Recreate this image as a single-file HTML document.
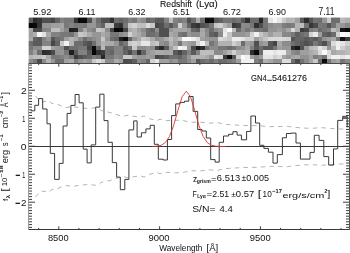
<!DOCTYPE html>
<html><head><meta charset="utf-8"><title>GN4_5461276</title>
<style>html,body{margin:0;padding:0;background:#fff;width:350px;height:253px;overflow:hidden}svg{display:block;will-change:transform}text{font-family:"Liberation Sans",sans-serif;white-space:pre}</style>
</head><body><svg width="350" height="253" viewBox="0 0 350 253" font-family='"Liberation Sans", sans-serif'><g shape-rendering="crispEdges"><rect x="29" y="18" width="4" height="5" fill="rgb(95,95,95)"/><rect x="33" y="18" width="4" height="5" fill="rgb(45,45,45)"/><rect x="37" y="18" width="5" height="5" fill="rgb(55,55,55)"/><rect x="42" y="18" width="4" height="5" fill="rgb(80,80,80)"/><rect x="46" y="18" width="5" height="5" fill="rgb(80,80,80)"/><rect x="51" y="18" width="4" height="5" fill="rgb(70,70,70)"/><rect x="55" y="18" width="5" height="5" fill="rgb(100,100,100)"/><rect x="60" y="18" width="4" height="5" fill="rgb(130,130,130)"/><rect x="64" y="18" width="5" height="5" fill="rgb(120,120,120)"/><rect x="69" y="18" width="5" height="5" fill="rgb(120,120,120)"/><rect x="74" y="18" width="4" height="5" fill="rgb(50,50,50)"/><rect x="78" y="18" width="5" height="5" fill="rgb(10,10,10)"/><rect x="83" y="18" width="4" height="5" fill="rgb(10,10,10)"/><rect x="87" y="18" width="5" height="5" fill="rgb(80,80,80)"/><rect x="92" y="18" width="4" height="5" fill="rgb(150,150,150)"/><rect x="96" y="18" width="5" height="5" fill="rgb(110,110,110)"/><rect x="101" y="18" width="4" height="5" fill="rgb(80,80,80)"/><rect x="105" y="18" width="5" height="5" fill="rgb(80,80,80)"/><rect x="110" y="18" width="4" height="5" fill="rgb(50,50,50)"/><rect x="114" y="18" width="5" height="5" fill="rgb(110,110,110)"/><rect x="119" y="18" width="4" height="5" fill="rgb(100,100,100)"/><rect x="123" y="18" width="5" height="5" fill="rgb(110,110,110)"/><rect x="128" y="18" width="4" height="5" fill="rgb(130,130,130)"/><rect x="132" y="18" width="5" height="5" fill="rgb(120,120,120)"/><rect x="137" y="18" width="4" height="5" fill="rgb(150,150,150)"/><rect x="141" y="18" width="5" height="5" fill="rgb(140,140,140)"/><rect x="146" y="18" width="4" height="5" fill="rgb(100,100,100)"/><rect x="150" y="18" width="5" height="5" fill="rgb(110,110,110)"/><rect x="155" y="18" width="4" height="5" fill="rgb(90,90,90)"/><rect x="159" y="18" width="5" height="5" fill="rgb(90,90,90)"/><rect x="164" y="18" width="5" height="5" fill="rgb(130,130,130)"/><rect x="169" y="18" width="4" height="5" fill="rgb(190,190,190)"/><rect x="173" y="18" width="5" height="5" fill="rgb(130,130,130)"/><rect x="178" y="18" width="4" height="5" fill="rgb(120,120,120)"/><rect x="182" y="18" width="5" height="5" fill="rgb(130,130,130)"/><rect x="187" y="18" width="4" height="5" fill="rgb(80,80,80)"/><rect x="191" y="18" width="5" height="5" fill="rgb(110,110,110)"/><rect x="196" y="18" width="4" height="5" fill="rgb(170,170,170)"/><rect x="200" y="18" width="5" height="5" fill="rgb(110,110,110)"/><rect x="205" y="18" width="4" height="5" fill="rgb(10,10,10)"/><rect x="209" y="18" width="5" height="5" fill="rgb(15,15,15)"/><rect x="214" y="18" width="4" height="5" fill="rgb(88,88,88)"/><rect x="218" y="18" width="5" height="5" fill="rgb(98,98,98)"/><rect x="223" y="18" width="4" height="5" fill="rgb(118,118,118)"/><rect x="227" y="18" width="5" height="5" fill="rgb(118,118,118)"/><rect x="232" y="18" width="4" height="5" fill="rgb(108,108,108)"/><rect x="236" y="18" width="5" height="5" fill="rgb(118,118,118)"/><rect x="241" y="18" width="4" height="5" fill="rgb(88,88,88)"/><rect x="245" y="18" width="5" height="5" fill="rgb(48,48,48)"/><rect x="250" y="18" width="4" height="5" fill="rgb(108,108,108)"/><rect x="254" y="18" width="5" height="5" fill="rgb(108,108,108)"/><rect x="259" y="18" width="4" height="5" fill="rgb(38,38,38)"/><rect x="263" y="18" width="5" height="5" fill="rgb(118,118,118)"/><rect x="268" y="18" width="5" height="5" fill="rgb(228,228,228)"/><rect x="273" y="18" width="4" height="5" fill="rgb(245,245,245)"/><rect x="277" y="18" width="5" height="5" fill="rgb(228,228,228)"/><rect x="282" y="18" width="4" height="5" fill="rgb(200,200,200)"/><rect x="286" y="18" width="5" height="5" fill="rgb(180,180,180)"/><rect x="291" y="18" width="4" height="5" fill="rgb(180,180,180)"/><rect x="295" y="18" width="5" height="5" fill="rgb(160,160,160)"/><rect x="300" y="18" width="4" height="5" fill="rgb(90,90,90)"/><rect x="304" y="18" width="5" height="5" fill="rgb(45,45,45)"/><rect x="309" y="18" width="4" height="5" fill="rgb(85,85,85)"/><rect x="313" y="18" width="5" height="5" fill="rgb(115,115,115)"/><rect x="318" y="18" width="4" height="5" fill="rgb(110,110,110)"/><rect x="322" y="18" width="5" height="5" fill="rgb(150,150,150)"/><rect x="327" y="18" width="4" height="5" fill="rgb(200,200,200)"/><rect x="331" y="18" width="5" height="5" fill="rgb(110,110,110)"/><rect x="336" y="18" width="4" height="5" fill="rgb(110,110,110)"/><rect x="340" y="18" width="5" height="5" fill="rgb(185,185,185)"/><rect x="345" y="18" width="5" height="5" fill="rgb(175,175,175)"/><rect x="29" y="23" width="4" height="5" fill="rgb(5,5,5)"/><rect x="33" y="23" width="4" height="5" fill="rgb(10,10,10)"/><rect x="37" y="23" width="5" height="5" fill="rgb(55,55,55)"/><rect x="42" y="23" width="4" height="5" fill="rgb(150,150,150)"/><rect x="46" y="23" width="5" height="5" fill="rgb(150,150,150)"/><rect x="51" y="23" width="4" height="5" fill="rgb(160,160,160)"/><rect x="55" y="23" width="5" height="5" fill="rgb(160,160,160)"/><rect x="60" y="23" width="4" height="5" fill="rgb(165,165,165)"/><rect x="64" y="23" width="5" height="5" fill="rgb(120,120,120)"/><rect x="69" y="23" width="5" height="5" fill="rgb(130,130,130)"/><rect x="74" y="23" width="4" height="5" fill="rgb(120,120,120)"/><rect x="78" y="23" width="5" height="5" fill="rgb(125,125,125)"/><rect x="83" y="23" width="4" height="5" fill="rgb(120,120,120)"/><rect x="87" y="23" width="5" height="5" fill="rgb(150,150,150)"/><rect x="92" y="23" width="4" height="5" fill="rgb(150,150,150)"/><rect x="96" y="23" width="5" height="5" fill="rgb(120,120,120)"/><rect x="101" y="23" width="4" height="5" fill="rgb(100,100,100)"/><rect x="105" y="23" width="5" height="5" fill="rgb(190,190,190)"/><rect x="110" y="23" width="4" height="5" fill="rgb(190,190,190)"/><rect x="114" y="23" width="5" height="5" fill="rgb(60,60,60)"/><rect x="119" y="23" width="4" height="5" fill="rgb(50,50,50)"/><rect x="123" y="23" width="5" height="5" fill="rgb(120,120,120)"/><rect x="128" y="23" width="4" height="5" fill="rgb(200,200,200)"/><rect x="132" y="23" width="5" height="5" fill="rgb(210,210,210)"/><rect x="137" y="23" width="4" height="5" fill="rgb(190,190,190)"/><rect x="141" y="23" width="5" height="5" fill="rgb(190,190,190)"/><rect x="146" y="23" width="4" height="5" fill="rgb(220,220,220)"/><rect x="150" y="23" width="5" height="5" fill="rgb(200,200,200)"/><rect x="155" y="23" width="4" height="5" fill="rgb(70,70,70)"/><rect x="159" y="23" width="5" height="5" fill="rgb(80,80,80)"/><rect x="164" y="23" width="5" height="5" fill="rgb(110,110,110)"/><rect x="169" y="23" width="4" height="5" fill="rgb(90,90,90)"/><rect x="173" y="23" width="5" height="5" fill="rgb(120,120,120)"/><rect x="178" y="23" width="4" height="5" fill="rgb(210,210,210)"/><rect x="182" y="23" width="5" height="5" fill="rgb(150,150,150)"/><rect x="187" y="23" width="4" height="5" fill="rgb(100,100,100)"/><rect x="191" y="23" width="5" height="5" fill="rgb(60,60,60)"/><rect x="196" y="23" width="4" height="5" fill="rgb(50,50,50)"/><rect x="200" y="23" width="5" height="5" fill="rgb(80,80,80)"/><rect x="205" y="23" width="4" height="5" fill="rgb(90,90,90)"/><rect x="209" y="23" width="5" height="5" fill="rgb(118,118,118)"/><rect x="214" y="23" width="4" height="5" fill="rgb(198,198,198)"/><rect x="218" y="23" width="5" height="5" fill="rgb(208,208,208)"/><rect x="223" y="23" width="4" height="5" fill="rgb(178,178,178)"/><rect x="227" y="23" width="5" height="5" fill="rgb(158,158,158)"/><rect x="232" y="23" width="4" height="5" fill="rgb(58,58,58)"/><rect x="236" y="23" width="5" height="5" fill="rgb(68,68,68)"/><rect x="241" y="23" width="4" height="5" fill="rgb(138,138,138)"/><rect x="245" y="23" width="5" height="5" fill="rgb(138,138,138)"/><rect x="250" y="23" width="4" height="5" fill="rgb(118,118,118)"/><rect x="254" y="23" width="5" height="5" fill="rgb(48,48,48)"/><rect x="259" y="23" width="4" height="5" fill="rgb(78,78,78)"/><rect x="263" y="23" width="5" height="5" fill="rgb(118,118,118)"/><rect x="268" y="23" width="5" height="5" fill="rgb(138,138,138)"/><rect x="273" y="23" width="4" height="5" fill="rgb(148,148,148)"/><rect x="277" y="23" width="5" height="5" fill="rgb(148,148,148)"/><rect x="282" y="23" width="4" height="5" fill="rgb(125,125,125)"/><rect x="286" y="23" width="5" height="5" fill="rgb(120,120,120)"/><rect x="291" y="23" width="4" height="5" fill="rgb(125,125,125)"/><rect x="295" y="23" width="5" height="5" fill="rgb(180,180,180)"/><rect x="300" y="23" width="4" height="5" fill="rgb(190,190,190)"/><rect x="304" y="23" width="5" height="5" fill="rgb(115,115,115)"/><rect x="309" y="23" width="4" height="5" fill="rgb(55,55,55)"/><rect x="313" y="23" width="5" height="5" fill="rgb(75,75,75)"/><rect x="318" y="23" width="4" height="5" fill="rgb(120,120,120)"/><rect x="322" y="23" width="5" height="5" fill="rgb(115,115,115)"/><rect x="327" y="23" width="4" height="5" fill="rgb(85,85,85)"/><rect x="331" y="23" width="5" height="5" fill="rgb(115,115,115)"/><rect x="336" y="23" width="4" height="5" fill="rgb(160,160,160)"/><rect x="340" y="23" width="5" height="5" fill="rgb(150,150,150)"/><rect x="345" y="23" width="5" height="5" fill="rgb(135,135,135)"/><rect x="29" y="28" width="4" height="4" fill="rgb(165,165,165)"/><rect x="33" y="28" width="4" height="4" fill="rgb(75,75,75)"/><rect x="37" y="28" width="5" height="4" fill="rgb(75,75,75)"/><rect x="42" y="28" width="4" height="4" fill="rgb(130,130,130)"/><rect x="46" y="28" width="5" height="4" fill="rgb(135,135,135)"/><rect x="51" y="28" width="4" height="4" fill="rgb(190,190,190)"/><rect x="55" y="28" width="5" height="4" fill="rgb(190,190,190)"/><rect x="60" y="28" width="4" height="4" fill="rgb(160,160,160)"/><rect x="64" y="28" width="5" height="4" fill="rgb(135,135,135)"/><rect x="69" y="28" width="5" height="4" fill="rgb(30,30,30)"/><rect x="74" y="28" width="4" height="4" fill="rgb(35,35,35)"/><rect x="78" y="28" width="5" height="4" fill="rgb(130,130,130)"/><rect x="83" y="28" width="4" height="4" fill="rgb(170,170,170)"/><rect x="87" y="28" width="5" height="4" fill="rgb(140,140,140)"/><rect x="92" y="28" width="4" height="4" fill="rgb(130,130,130)"/><rect x="96" y="28" width="5" height="4" fill="rgb(200,200,200)"/><rect x="101" y="28" width="4" height="4" fill="rgb(190,190,190)"/><rect x="105" y="28" width="5" height="4" fill="rgb(140,140,140)"/><rect x="110" y="28" width="4" height="4" fill="rgb(70,70,70)"/><rect x="114" y="28" width="5" height="4" fill="rgb(5,5,5)"/><rect x="119" y="28" width="4" height="4" fill="rgb(10,10,10)"/><rect x="123" y="28" width="5" height="4" fill="rgb(70,70,70)"/><rect x="128" y="28" width="4" height="4" fill="rgb(170,170,170)"/><rect x="132" y="28" width="5" height="4" fill="rgb(180,180,180)"/><rect x="137" y="28" width="4" height="4" fill="rgb(160,160,160)"/><rect x="141" y="28" width="5" height="4" fill="rgb(140,140,140)"/><rect x="146" y="28" width="4" height="4" fill="rgb(110,110,110)"/><rect x="150" y="28" width="5" height="4" fill="rgb(100,100,100)"/><rect x="155" y="28" width="4" height="4" fill="rgb(140,140,140)"/><rect x="159" y="28" width="5" height="4" fill="rgb(80,80,80)"/><rect x="164" y="28" width="5" height="4" fill="rgb(80,80,80)"/><rect x="169" y="28" width="4" height="4" fill="rgb(150,150,150)"/><rect x="173" y="28" width="5" height="4" fill="rgb(165,165,165)"/><rect x="178" y="28" width="4" height="4" fill="rgb(165,165,165)"/><rect x="182" y="28" width="5" height="4" fill="rgb(165,165,165)"/><rect x="187" y="28" width="4" height="4" fill="rgb(155,155,155)"/><rect x="191" y="28" width="5" height="4" fill="rgb(105,105,105)"/><rect x="196" y="28" width="4" height="4" fill="rgb(95,95,95)"/><rect x="200" y="28" width="5" height="4" fill="rgb(165,165,165)"/><rect x="205" y="28" width="4" height="4" fill="rgb(135,135,135)"/><rect x="209" y="28" width="5" height="4" fill="rgb(108,108,108)"/><rect x="214" y="28" width="4" height="4" fill="rgb(138,138,138)"/><rect x="218" y="28" width="5" height="4" fill="rgb(148,148,148)"/><rect x="223" y="28" width="4" height="4" fill="rgb(228,228,228)"/><rect x="227" y="28" width="5" height="4" fill="rgb(250,250,250)"/><rect x="232" y="28" width="4" height="4" fill="rgb(188,188,188)"/><rect x="236" y="28" width="5" height="4" fill="rgb(108,108,108)"/><rect x="241" y="28" width="4" height="4" fill="rgb(138,138,138)"/><rect x="245" y="28" width="5" height="4" fill="rgb(118,118,118)"/><rect x="250" y="28" width="4" height="4" fill="rgb(138,138,138)"/><rect x="254" y="28" width="5" height="4" fill="rgb(118,118,118)"/><rect x="259" y="28" width="4" height="4" fill="rgb(118,118,118)"/><rect x="263" y="28" width="5" height="4" fill="rgb(108,108,108)"/><rect x="268" y="28" width="5" height="4" fill="rgb(148,148,148)"/><rect x="273" y="28" width="4" height="4" fill="rgb(148,148,148)"/><rect x="277" y="28" width="5" height="4" fill="rgb(158,158,158)"/><rect x="282" y="28" width="4" height="4" fill="rgb(145,145,145)"/><rect x="286" y="28" width="5" height="4" fill="rgb(165,165,165)"/><rect x="291" y="28" width="4" height="4" fill="rgb(215,215,215)"/><rect x="295" y="28" width="5" height="4" fill="rgb(175,175,175)"/><rect x="300" y="28" width="4" height="4" fill="rgb(60,60,60)"/><rect x="304" y="28" width="5" height="4" fill="rgb(70,70,70)"/><rect x="309" y="28" width="4" height="4" fill="rgb(125,125,125)"/><rect x="313" y="28" width="5" height="4" fill="rgb(135,135,135)"/><rect x="318" y="28" width="4" height="4" fill="rgb(108,108,108)"/><rect x="322" y="28" width="5" height="4" fill="rgb(118,118,118)"/><rect x="327" y="28" width="4" height="4" fill="rgb(128,128,128)"/><rect x="331" y="28" width="5" height="4" fill="rgb(188,188,188)"/><rect x="336" y="28" width="4" height="4" fill="rgb(168,168,168)"/><rect x="340" y="28" width="5" height="4" fill="rgb(20,20,20)"/><rect x="345" y="28" width="5" height="4" fill="rgb(10,10,10)"/><rect x="29" y="32" width="4" height="5" fill="rgb(160,160,160)"/><rect x="33" y="32" width="4" height="5" fill="rgb(175,175,175)"/><rect x="37" y="32" width="5" height="5" fill="rgb(245,245,245)"/><rect x="42" y="32" width="4" height="5" fill="rgb(225,225,225)"/><rect x="46" y="32" width="5" height="5" fill="rgb(170,170,170)"/><rect x="51" y="32" width="4" height="5" fill="rgb(130,130,130)"/><rect x="55" y="32" width="5" height="5" fill="rgb(130,130,130)"/><rect x="60" y="32" width="4" height="5" fill="rgb(120,120,120)"/><rect x="64" y="32" width="5" height="5" fill="rgb(120,120,120)"/><rect x="69" y="32" width="5" height="5" fill="rgb(115,115,115)"/><rect x="74" y="32" width="4" height="5" fill="rgb(150,150,150)"/><rect x="78" y="32" width="5" height="5" fill="rgb(200,200,200)"/><rect x="83" y="32" width="4" height="5" fill="rgb(190,190,190)"/><rect x="87" y="32" width="5" height="5" fill="rgb(170,170,170)"/><rect x="92" y="32" width="4" height="5" fill="rgb(150,150,150)"/><rect x="96" y="32" width="5" height="5" fill="rgb(150,150,150)"/><rect x="101" y="32" width="4" height="5" fill="rgb(170,170,170)"/><rect x="105" y="32" width="5" height="5" fill="rgb(160,160,160)"/><rect x="110" y="32" width="4" height="5" fill="rgb(120,120,120)"/><rect x="114" y="32" width="5" height="5" fill="rgb(120,120,120)"/><rect x="119" y="32" width="4" height="5" fill="rgb(140,140,140)"/><rect x="123" y="32" width="5" height="5" fill="rgb(150,150,150)"/><rect x="128" y="32" width="4" height="5" fill="rgb(210,210,210)"/><rect x="132" y="32" width="5" height="5" fill="rgb(180,180,180)"/><rect x="137" y="32" width="4" height="5" fill="rgb(170,170,170)"/><rect x="141" y="32" width="5" height="5" fill="rgb(150,150,150)"/><rect x="146" y="32" width="4" height="5" fill="rgb(110,110,110)"/><rect x="150" y="32" width="5" height="5" fill="rgb(110,110,110)"/><rect x="155" y="32" width="4" height="5" fill="rgb(120,120,120)"/><rect x="159" y="32" width="5" height="5" fill="rgb(80,80,80)"/><rect x="164" y="32" width="5" height="5" fill="rgb(80,80,80)"/><rect x="169" y="32" width="4" height="5" fill="rgb(170,170,170)"/><rect x="173" y="32" width="5" height="5" fill="rgb(160,160,160)"/><rect x="178" y="32" width="4" height="5" fill="rgb(120,120,120)"/><rect x="182" y="32" width="5" height="5" fill="rgb(110,110,110)"/><rect x="187" y="32" width="4" height="5" fill="rgb(150,150,150)"/><rect x="191" y="32" width="5" height="5" fill="rgb(140,140,140)"/><rect x="196" y="32" width="4" height="5" fill="rgb(140,140,140)"/><rect x="200" y="32" width="5" height="5" fill="rgb(170,170,170)"/><rect x="205" y="32" width="4" height="5" fill="rgb(140,140,140)"/><rect x="209" y="32" width="5" height="5" fill="rgb(98,98,98)"/><rect x="214" y="32" width="4" height="5" fill="rgb(88,88,88)"/><rect x="218" y="32" width="5" height="5" fill="rgb(138,138,138)"/><rect x="223" y="32" width="4" height="5" fill="rgb(238,238,238)"/><rect x="227" y="32" width="5" height="5" fill="rgb(198,198,198)"/><rect x="232" y="32" width="4" height="5" fill="rgb(148,148,148)"/><rect x="236" y="32" width="5" height="5" fill="rgb(148,148,148)"/><rect x="241" y="32" width="4" height="5" fill="rgb(148,148,148)"/><rect x="245" y="32" width="5" height="5" fill="rgb(158,158,158)"/><rect x="250" y="32" width="4" height="5" fill="rgb(208,208,208)"/><rect x="254" y="32" width="5" height="5" fill="rgb(240,240,240)"/><rect x="259" y="32" width="4" height="5" fill="rgb(198,198,198)"/><rect x="263" y="32" width="5" height="5" fill="rgb(178,178,178)"/><rect x="268" y="32" width="5" height="5" fill="rgb(158,158,158)"/><rect x="273" y="32" width="4" height="5" fill="rgb(178,178,178)"/><rect x="277" y="32" width="5" height="5" fill="rgb(178,178,178)"/><rect x="282" y="32" width="4" height="5" fill="rgb(135,135,135)"/><rect x="286" y="32" width="5" height="5" fill="rgb(135,135,135)"/><rect x="291" y="32" width="4" height="5" fill="rgb(120,120,120)"/><rect x="295" y="32" width="5" height="5" fill="rgb(95,95,95)"/><rect x="300" y="32" width="4" height="5" fill="rgb(110,110,110)"/><rect x="304" y="32" width="5" height="5" fill="rgb(120,120,120)"/><rect x="309" y="32" width="4" height="5" fill="rgb(210,210,210)"/><rect x="313" y="32" width="5" height="5" fill="rgb(235,235,235)"/><rect x="318" y="32" width="4" height="5" fill="rgb(158,158,158)"/><rect x="322" y="32" width="5" height="5" fill="rgb(98,98,98)"/><rect x="327" y="32" width="4" height="5" fill="rgb(88,88,88)"/><rect x="331" y="32" width="5" height="5" fill="rgb(108,108,108)"/><rect x="336" y="32" width="4" height="5" fill="rgb(208,208,208)"/><rect x="340" y="32" width="5" height="5" fill="rgb(250,250,250)"/><rect x="345" y="32" width="5" height="5" fill="rgb(245,245,245)"/><rect x="29" y="37" width="4" height="4" fill="rgb(170,170,170)"/><rect x="33" y="37" width="4" height="4" fill="rgb(100,100,100)"/><rect x="37" y="37" width="5" height="4" fill="rgb(90,90,90)"/><rect x="42" y="37" width="4" height="4" fill="rgb(130,130,130)"/><rect x="46" y="37" width="5" height="4" fill="rgb(150,150,150)"/><rect x="51" y="37" width="4" height="4" fill="rgb(85,85,85)"/><rect x="55" y="37" width="5" height="4" fill="rgb(110,110,110)"/><rect x="60" y="37" width="4" height="4" fill="rgb(120,120,120)"/><rect x="64" y="37" width="5" height="4" fill="rgb(160,160,160)"/><rect x="69" y="37" width="5" height="4" fill="rgb(180,180,180)"/><rect x="74" y="37" width="4" height="4" fill="rgb(170,170,170)"/><rect x="78" y="37" width="5" height="4" fill="rgb(140,140,140)"/><rect x="83" y="37" width="4" height="4" fill="rgb(110,110,110)"/><rect x="87" y="37" width="5" height="4" fill="rgb(130,130,130)"/><rect x="92" y="37" width="4" height="4" fill="rgb(140,140,140)"/><rect x="96" y="37" width="5" height="4" fill="rgb(150,150,150)"/><rect x="101" y="37" width="4" height="4" fill="rgb(200,200,200)"/><rect x="105" y="37" width="5" height="4" fill="rgb(150,150,150)"/><rect x="110" y="37" width="4" height="4" fill="rgb(110,110,110)"/><rect x="114" y="37" width="5" height="4" fill="rgb(100,100,100)"/><rect x="119" y="37" width="4" height="4" fill="rgb(30,30,30)"/><rect x="123" y="37" width="5" height="4" fill="rgb(10,10,10)"/><rect x="128" y="37" width="4" height="4" fill="rgb(100,100,100)"/><rect x="132" y="37" width="5" height="4" fill="rgb(150,150,150)"/><rect x="137" y="37" width="4" height="4" fill="rgb(170,170,170)"/><rect x="141" y="37" width="5" height="4" fill="rgb(200,200,200)"/><rect x="146" y="37" width="4" height="4" fill="rgb(190,190,190)"/><rect x="150" y="37" width="5" height="4" fill="rgb(170,170,170)"/><rect x="155" y="37" width="4" height="4" fill="rgb(140,140,140)"/><rect x="159" y="37" width="5" height="4" fill="rgb(150,150,150)"/><rect x="164" y="37" width="5" height="4" fill="rgb(170,170,170)"/><rect x="169" y="37" width="4" height="4" fill="rgb(190,190,190)"/><rect x="173" y="37" width="5" height="4" fill="rgb(170,170,170)"/><rect x="178" y="37" width="4" height="4" fill="rgb(190,190,190)"/><rect x="182" y="37" width="5" height="4" fill="rgb(250,250,250)"/><rect x="187" y="37" width="4" height="4" fill="rgb(250,250,250)"/><rect x="191" y="37" width="5" height="4" fill="rgb(240,240,240)"/><rect x="196" y="37" width="4" height="4" fill="rgb(220,220,220)"/><rect x="200" y="37" width="5" height="4" fill="rgb(160,160,160)"/><rect x="205" y="37" width="4" height="4" fill="rgb(150,150,150)"/><rect x="209" y="37" width="5" height="4" fill="rgb(148,148,148)"/><rect x="214" y="37" width="4" height="4" fill="rgb(148,148,148)"/><rect x="218" y="37" width="5" height="4" fill="rgb(218,218,218)"/><rect x="223" y="37" width="4" height="4" fill="rgb(208,208,208)"/><rect x="227" y="37" width="5" height="4" fill="rgb(198,198,198)"/><rect x="232" y="37" width="4" height="4" fill="rgb(238,238,238)"/><rect x="236" y="37" width="5" height="4" fill="rgb(238,238,238)"/><rect x="241" y="37" width="4" height="4" fill="rgb(228,228,228)"/><rect x="245" y="37" width="5" height="4" fill="rgb(208,208,208)"/><rect x="250" y="37" width="4" height="4" fill="rgb(208,208,208)"/><rect x="254" y="37" width="5" height="4" fill="rgb(158,158,158)"/><rect x="259" y="37" width="4" height="4" fill="rgb(178,178,178)"/><rect x="263" y="37" width="5" height="4" fill="rgb(198,198,198)"/><rect x="268" y="37" width="5" height="4" fill="rgb(218,218,218)"/><rect x="273" y="37" width="4" height="4" fill="rgb(218,218,218)"/><rect x="277" y="37" width="5" height="4" fill="rgb(218,218,218)"/><rect x="282" y="37" width="4" height="4" fill="rgb(215,215,215)"/><rect x="286" y="37" width="5" height="4" fill="rgb(210,210,210)"/><rect x="291" y="37" width="4" height="4" fill="rgb(85,85,85)"/><rect x="295" y="37" width="5" height="4" fill="rgb(100,100,100)"/><rect x="300" y="37" width="4" height="4" fill="rgb(100,100,100)"/><rect x="304" y="37" width="5" height="4" fill="rgb(90,90,90)"/><rect x="309" y="37" width="4" height="4" fill="rgb(100,100,100)"/><rect x="313" y="37" width="5" height="4" fill="rgb(90,90,90)"/><rect x="318" y="37" width="4" height="4" fill="rgb(108,108,108)"/><rect x="322" y="37" width="5" height="4" fill="rgb(148,148,148)"/><rect x="327" y="37" width="4" height="4" fill="rgb(158,158,158)"/><rect x="331" y="37" width="5" height="4" fill="rgb(168,168,168)"/><rect x="336" y="37" width="4" height="4" fill="rgb(118,118,118)"/><rect x="340" y="37" width="5" height="4" fill="rgb(20,20,20)"/><rect x="345" y="37" width="5" height="4" fill="rgb(58,58,58)"/><rect x="29" y="41" width="4" height="5" fill="rgb(110,110,110)"/><rect x="33" y="41" width="4" height="5" fill="rgb(90,90,90)"/><rect x="37" y="41" width="5" height="5" fill="rgb(90,90,90)"/><rect x="42" y="41" width="4" height="5" fill="rgb(130,130,130)"/><rect x="46" y="41" width="5" height="5" fill="rgb(130,130,130)"/><rect x="51" y="41" width="4" height="5" fill="rgb(70,70,70)"/><rect x="55" y="41" width="5" height="5" fill="rgb(100,100,100)"/><rect x="60" y="41" width="4" height="5" fill="rgb(200,200,200)"/><rect x="64" y="41" width="5" height="5" fill="rgb(240,240,240)"/><rect x="69" y="41" width="5" height="5" fill="rgb(180,180,180)"/><rect x="74" y="41" width="4" height="5" fill="rgb(110,110,110)"/><rect x="78" y="41" width="5" height="5" fill="rgb(110,110,110)"/><rect x="83" y="41" width="4" height="5" fill="rgb(90,90,90)"/><rect x="87" y="41" width="5" height="5" fill="rgb(80,80,80)"/><rect x="92" y="41" width="4" height="5" fill="rgb(110,110,110)"/><rect x="96" y="41" width="5" height="5" fill="rgb(150,150,150)"/><rect x="101" y="41" width="4" height="5" fill="rgb(180,180,180)"/><rect x="105" y="41" width="5" height="5" fill="rgb(170,170,170)"/><rect x="110" y="41" width="4" height="5" fill="rgb(170,170,170)"/><rect x="114" y="41" width="5" height="5" fill="rgb(150,150,150)"/><rect x="119" y="41" width="4" height="5" fill="rgb(100,100,100)"/><rect x="123" y="41" width="5" height="5" fill="rgb(120,120,120)"/><rect x="128" y="41" width="4" height="5" fill="rgb(200,200,200)"/><rect x="132" y="41" width="5" height="5" fill="rgb(210,210,210)"/><rect x="137" y="41" width="4" height="5" fill="rgb(200,200,200)"/><rect x="141" y="41" width="5" height="5" fill="rgb(230,230,230)"/><rect x="146" y="41" width="4" height="5" fill="rgb(230,230,230)"/><rect x="150" y="41" width="5" height="5" fill="rgb(190,190,190)"/><rect x="155" y="41" width="4" height="5" fill="rgb(200,200,200)"/><rect x="159" y="41" width="5" height="5" fill="rgb(145,145,145)"/><rect x="164" y="41" width="5" height="5" fill="rgb(135,135,135)"/><rect x="169" y="41" width="4" height="5" fill="rgb(180,180,180)"/><rect x="173" y="41" width="5" height="5" fill="rgb(160,160,160)"/><rect x="178" y="41" width="4" height="5" fill="rgb(120,120,120)"/><rect x="182" y="41" width="5" height="5" fill="rgb(170,170,170)"/><rect x="187" y="41" width="4" height="5" fill="rgb(160,160,160)"/><rect x="191" y="41" width="5" height="5" fill="rgb(150,150,150)"/><rect x="196" y="41" width="4" height="5" fill="rgb(210,210,210)"/><rect x="200" y="41" width="5" height="5" fill="rgb(240,240,240)"/><rect x="205" y="41" width="4" height="5" fill="rgb(190,190,190)"/><rect x="209" y="41" width="5" height="5" fill="rgb(118,118,118)"/><rect x="214" y="41" width="4" height="5" fill="rgb(138,138,138)"/><rect x="218" y="41" width="5" height="5" fill="rgb(178,178,178)"/><rect x="223" y="41" width="4" height="5" fill="rgb(178,178,178)"/><rect x="227" y="41" width="5" height="5" fill="rgb(178,178,178)"/><rect x="232" y="41" width="4" height="5" fill="rgb(208,208,208)"/><rect x="236" y="41" width="5" height="5" fill="rgb(188,188,188)"/><rect x="241" y="41" width="4" height="5" fill="rgb(108,108,108)"/><rect x="245" y="41" width="5" height="5" fill="rgb(158,158,158)"/><rect x="250" y="41" width="4" height="5" fill="rgb(148,148,148)"/><rect x="254" y="41" width="5" height="5" fill="rgb(78,78,78)"/><rect x="259" y="41" width="4" height="5" fill="rgb(148,148,148)"/><rect x="263" y="41" width="5" height="5" fill="rgb(158,158,158)"/><rect x="268" y="41" width="5" height="5" fill="rgb(88,88,88)"/><rect x="273" y="41" width="4" height="5" fill="rgb(68,68,68)"/><rect x="277" y="41" width="5" height="5" fill="rgb(168,168,168)"/><rect x="282" y="41" width="4" height="5" fill="rgb(140,140,140)"/><rect x="286" y="41" width="5" height="5" fill="rgb(140,140,140)"/><rect x="291" y="41" width="4" height="5" fill="rgb(110,110,110)"/><rect x="295" y="41" width="5" height="5" fill="rgb(100,100,100)"/><rect x="300" y="41" width="4" height="5" fill="rgb(90,90,90)"/><rect x="304" y="41" width="5" height="5" fill="rgb(80,80,80)"/><rect x="309" y="41" width="4" height="5" fill="rgb(90,90,90)"/><rect x="313" y="41" width="5" height="5" fill="rgb(120,120,120)"/><rect x="318" y="41" width="4" height="5" fill="rgb(98,98,98)"/><rect x="322" y="41" width="5" height="5" fill="rgb(78,78,78)"/><rect x="327" y="41" width="4" height="5" fill="rgb(128,128,128)"/><rect x="331" y="41" width="5" height="5" fill="rgb(218,218,218)"/><rect x="336" y="41" width="4" height="5" fill="rgb(238,238,238)"/><rect x="340" y="41" width="5" height="5" fill="rgb(228,228,228)"/><rect x="345" y="41" width="5" height="5" fill="rgb(208,208,208)"/><rect x="29" y="46" width="4" height="4" fill="rgb(120,120,120)"/><rect x="33" y="46" width="4" height="4" fill="rgb(140,140,140)"/><rect x="37" y="46" width="5" height="4" fill="rgb(140,140,140)"/><rect x="42" y="46" width="4" height="4" fill="rgb(210,210,210)"/><rect x="46" y="46" width="5" height="4" fill="rgb(210,210,210)"/><rect x="51" y="46" width="4" height="4" fill="rgb(160,160,160)"/><rect x="55" y="46" width="5" height="4" fill="rgb(150,150,150)"/><rect x="60" y="46" width="4" height="4" fill="rgb(140,140,140)"/><rect x="64" y="46" width="5" height="4" fill="rgb(80,80,80)"/><rect x="69" y="46" width="5" height="4" fill="rgb(110,110,110)"/><rect x="74" y="46" width="4" height="4" fill="rgb(110,110,110)"/><rect x="78" y="46" width="5" height="4" fill="rgb(120,120,120)"/><rect x="83" y="46" width="4" height="4" fill="rgb(120,120,120)"/><rect x="87" y="46" width="5" height="4" fill="rgb(70,70,70)"/><rect x="92" y="46" width="4" height="4" fill="rgb(10,10,10)"/><rect x="96" y="46" width="5" height="4" fill="rgb(100,100,100)"/><rect x="101" y="46" width="4" height="4" fill="rgb(185,185,185)"/><rect x="105" y="46" width="5" height="4" fill="rgb(110,110,110)"/><rect x="110" y="46" width="4" height="4" fill="rgb(110,110,110)"/><rect x="114" y="46" width="5" height="4" fill="rgb(130,130,130)"/><rect x="119" y="46" width="4" height="4" fill="rgb(130,130,130)"/><rect x="123" y="46" width="5" height="4" fill="rgb(95,95,95)"/><rect x="128" y="46" width="4" height="4" fill="rgb(110,110,110)"/><rect x="132" y="46" width="5" height="4" fill="rgb(200,200,200)"/><rect x="137" y="46" width="4" height="4" fill="rgb(140,140,140)"/><rect x="141" y="46" width="5" height="4" fill="rgb(140,140,140)"/><rect x="146" y="46" width="4" height="4" fill="rgb(150,150,150)"/><rect x="150" y="46" width="5" height="4" fill="rgb(140,140,140)"/><rect x="155" y="46" width="4" height="4" fill="rgb(70,70,70)"/><rect x="159" y="46" width="5" height="4" fill="rgb(40,40,40)"/><rect x="164" y="46" width="5" height="4" fill="rgb(90,90,90)"/><rect x="169" y="46" width="4" height="4" fill="rgb(160,160,160)"/><rect x="173" y="46" width="5" height="4" fill="rgb(195,195,195)"/><rect x="178" y="46" width="4" height="4" fill="rgb(245,245,245)"/><rect x="182" y="46" width="5" height="4" fill="rgb(235,235,235)"/><rect x="187" y="46" width="4" height="4" fill="rgb(155,155,155)"/><rect x="191" y="46" width="5" height="4" fill="rgb(75,75,75)"/><rect x="196" y="46" width="4" height="4" fill="rgb(25,25,25)"/><rect x="200" y="46" width="5" height="4" fill="rgb(45,45,45)"/><rect x="205" y="46" width="4" height="4" fill="rgb(115,115,115)"/><rect x="209" y="46" width="5" height="4" fill="rgb(138,138,138)"/><rect x="214" y="46" width="4" height="4" fill="rgb(138,138,138)"/><rect x="218" y="46" width="5" height="4" fill="rgb(118,118,118)"/><rect x="223" y="46" width="4" height="4" fill="rgb(118,118,118)"/><rect x="227" y="46" width="5" height="4" fill="rgb(108,108,108)"/><rect x="232" y="46" width="4" height="4" fill="rgb(118,118,118)"/><rect x="236" y="46" width="5" height="4" fill="rgb(138,138,138)"/><rect x="241" y="46" width="4" height="4" fill="rgb(148,148,148)"/><rect x="245" y="46" width="5" height="4" fill="rgb(168,168,168)"/><rect x="250" y="46" width="4" height="4" fill="rgb(128,128,128)"/><rect x="254" y="46" width="5" height="4" fill="rgb(88,88,88)"/><rect x="259" y="46" width="4" height="4" fill="rgb(108,108,108)"/><rect x="263" y="46" width="5" height="4" fill="rgb(88,88,88)"/><rect x="268" y="46" width="5" height="4" fill="rgb(88,88,88)"/><rect x="273" y="46" width="4" height="4" fill="rgb(118,118,118)"/><rect x="277" y="46" width="5" height="4" fill="rgb(158,158,158)"/><rect x="282" y="46" width="4" height="4" fill="rgb(150,150,150)"/><rect x="286" y="46" width="5" height="4" fill="rgb(150,150,150)"/><rect x="291" y="46" width="4" height="4" fill="rgb(45,45,45)"/><rect x="295" y="46" width="5" height="4" fill="rgb(25,25,25)"/><rect x="300" y="46" width="4" height="4" fill="rgb(80,80,80)"/><rect x="304" y="46" width="5" height="4" fill="rgb(150,150,150)"/><rect x="309" y="46" width="4" height="4" fill="rgb(185,185,185)"/><rect x="313" y="46" width="5" height="4" fill="rgb(195,195,195)"/><rect x="318" y="46" width="4" height="4" fill="rgb(228,228,228)"/><rect x="322" y="46" width="5" height="4" fill="rgb(208,208,208)"/><rect x="327" y="46" width="4" height="4" fill="rgb(148,148,148)"/><rect x="331" y="46" width="5" height="4" fill="rgb(188,188,188)"/><rect x="336" y="46" width="4" height="4" fill="rgb(240,240,240)"/><rect x="340" y="46" width="5" height="4" fill="rgb(208,208,208)"/><rect x="345" y="46" width="5" height="4" fill="rgb(188,188,188)"/><rect x="29" y="50" width="4" height="5" fill="rgb(130,130,130)"/><rect x="33" y="50" width="4" height="5" fill="rgb(160,160,160)"/><rect x="37" y="50" width="5" height="5" fill="rgb(110,110,110)"/><rect x="42" y="50" width="4" height="5" fill="rgb(45,45,45)"/><rect x="46" y="50" width="5" height="5" fill="rgb(50,50,50)"/><rect x="51" y="50" width="4" height="5" fill="rgb(75,75,75)"/><rect x="55" y="50" width="5" height="5" fill="rgb(145,145,145)"/><rect x="60" y="50" width="4" height="5" fill="rgb(150,150,150)"/><rect x="64" y="50" width="5" height="5" fill="rgb(120,120,120)"/><rect x="69" y="50" width="5" height="5" fill="rgb(30,30,30)"/><rect x="74" y="50" width="4" height="5" fill="rgb(90,90,90)"/><rect x="78" y="50" width="5" height="5" fill="rgb(130,130,130)"/><rect x="83" y="50" width="4" height="5" fill="rgb(130,130,130)"/><rect x="87" y="50" width="5" height="5" fill="rgb(90,90,90)"/><rect x="92" y="50" width="4" height="5" fill="rgb(5,5,5)"/><rect x="96" y="50" width="5" height="5" fill="rgb(50,50,50)"/><rect x="101" y="50" width="4" height="5" fill="rgb(60,60,60)"/><rect x="105" y="50" width="5" height="5" fill="rgb(110,110,110)"/><rect x="110" y="50" width="4" height="5" fill="rgb(100,100,100)"/><rect x="114" y="50" width="5" height="5" fill="rgb(130,130,130)"/><rect x="119" y="50" width="4" height="5" fill="rgb(130,130,130)"/><rect x="123" y="50" width="5" height="5" fill="rgb(100,100,100)"/><rect x="128" y="50" width="4" height="5" fill="rgb(75,75,75)"/><rect x="132" y="50" width="5" height="5" fill="rgb(115,115,115)"/><rect x="137" y="50" width="4" height="5" fill="rgb(50,50,50)"/><rect x="141" y="50" width="5" height="5" fill="rgb(100,100,100)"/><rect x="146" y="50" width="4" height="5" fill="rgb(150,150,150)"/><rect x="150" y="50" width="5" height="5" fill="rgb(160,160,160)"/><rect x="155" y="50" width="4" height="5" fill="rgb(170,170,170)"/><rect x="159" y="50" width="5" height="5" fill="rgb(170,170,170)"/><rect x="164" y="50" width="5" height="5" fill="rgb(165,165,165)"/><rect x="169" y="50" width="4" height="5" fill="rgb(170,170,170)"/><rect x="173" y="50" width="5" height="5" fill="rgb(90,90,90)"/><rect x="178" y="50" width="4" height="5" fill="rgb(70,70,70)"/><rect x="182" y="50" width="5" height="5" fill="rgb(100,100,100)"/><rect x="187" y="50" width="4" height="5" fill="rgb(130,130,130)"/><rect x="191" y="50" width="5" height="5" fill="rgb(90,90,90)"/><rect x="196" y="50" width="4" height="5" fill="rgb(130,130,130)"/><rect x="200" y="50" width="5" height="5" fill="rgb(190,190,190)"/><rect x="205" y="50" width="4" height="5" fill="rgb(190,190,190)"/><rect x="209" y="50" width="5" height="5" fill="rgb(188,188,188)"/><rect x="214" y="50" width="4" height="5" fill="rgb(138,138,138)"/><rect x="218" y="50" width="5" height="5" fill="rgb(138,138,138)"/><rect x="223" y="50" width="4" height="5" fill="rgb(158,158,158)"/><rect x="227" y="50" width="5" height="5" fill="rgb(178,178,178)"/><rect x="232" y="50" width="4" height="5" fill="rgb(208,208,208)"/><rect x="236" y="50" width="5" height="5" fill="rgb(178,178,178)"/><rect x="241" y="50" width="4" height="5" fill="rgb(168,168,168)"/><rect x="245" y="50" width="5" height="5" fill="rgb(178,178,178)"/><rect x="250" y="50" width="4" height="5" fill="rgb(48,48,48)"/><rect x="254" y="50" width="5" height="5" fill="rgb(10,10,10)"/><rect x="259" y="50" width="4" height="5" fill="rgb(108,108,108)"/><rect x="263" y="50" width="5" height="5" fill="rgb(238,238,238)"/><rect x="268" y="50" width="5" height="5" fill="rgb(240,240,240)"/><rect x="273" y="50" width="4" height="5" fill="rgb(228,228,228)"/><rect x="277" y="50" width="5" height="5" fill="rgb(238,238,238)"/><rect x="282" y="50" width="4" height="5" fill="rgb(235,235,235)"/><rect x="286" y="50" width="5" height="5" fill="rgb(170,170,170)"/><rect x="291" y="50" width="4" height="5" fill="rgb(140,140,140)"/><rect x="295" y="50" width="5" height="5" fill="rgb(130,130,130)"/><rect x="300" y="50" width="4" height="5" fill="rgb(160,160,160)"/><rect x="304" y="50" width="5" height="5" fill="rgb(160,160,160)"/><rect x="309" y="50" width="4" height="5" fill="rgb(170,170,170)"/><rect x="313" y="50" width="5" height="5" fill="rgb(180,180,180)"/><rect x="318" y="50" width="4" height="5" fill="rgb(218,218,218)"/><rect x="322" y="50" width="5" height="5" fill="rgb(250,250,250)"/><rect x="327" y="50" width="4" height="5" fill="rgb(218,218,218)"/><rect x="331" y="50" width="5" height="5" fill="rgb(168,168,168)"/><rect x="336" y="50" width="4" height="5" fill="rgb(178,178,178)"/><rect x="340" y="50" width="5" height="5" fill="rgb(178,178,178)"/><rect x="345" y="50" width="5" height="5" fill="rgb(188,188,188)"/><rect x="29" y="55" width="4" height="4" fill="rgb(180,180,180)"/><rect x="33" y="55" width="4" height="4" fill="rgb(190,190,190)"/><rect x="37" y="55" width="5" height="4" fill="rgb(190,190,190)"/><rect x="42" y="55" width="4" height="4" fill="rgb(200,200,200)"/><rect x="46" y="55" width="5" height="4" fill="rgb(170,170,170)"/><rect x="51" y="55" width="4" height="4" fill="rgb(120,120,120)"/><rect x="55" y="55" width="5" height="4" fill="rgb(120,120,120)"/><rect x="60" y="55" width="4" height="4" fill="rgb(130,130,130)"/><rect x="64" y="55" width="5" height="4" fill="rgb(140,140,140)"/><rect x="69" y="55" width="5" height="4" fill="rgb(120,120,120)"/><rect x="74" y="55" width="4" height="4" fill="rgb(60,60,60)"/><rect x="78" y="55" width="5" height="4" fill="rgb(80,80,80)"/><rect x="83" y="55" width="4" height="4" fill="rgb(90,90,90)"/><rect x="87" y="55" width="5" height="4" fill="rgb(100,100,100)"/><rect x="92" y="55" width="4" height="4" fill="rgb(120,120,120)"/><rect x="96" y="55" width="5" height="4" fill="rgb(110,110,110)"/><rect x="101" y="55" width="4" height="4" fill="rgb(40,40,40)"/><rect x="105" y="55" width="5" height="4" fill="rgb(120,120,120)"/><rect x="110" y="55" width="4" height="4" fill="rgb(120,120,120)"/><rect x="114" y="55" width="5" height="4" fill="rgb(140,140,140)"/><rect x="119" y="55" width="4" height="4" fill="rgb(130,130,130)"/><rect x="123" y="55" width="5" height="4" fill="rgb(200,200,200)"/><rect x="128" y="55" width="4" height="4" fill="rgb(200,200,200)"/><rect x="132" y="55" width="5" height="4" fill="rgb(160,160,160)"/><rect x="137" y="55" width="4" height="4" fill="rgb(150,150,150)"/><rect x="141" y="55" width="5" height="4" fill="rgb(150,150,150)"/><rect x="146" y="55" width="4" height="4" fill="rgb(160,160,160)"/><rect x="150" y="55" width="5" height="4" fill="rgb(150,150,150)"/><rect x="155" y="55" width="4" height="4" fill="rgb(70,70,70)"/><rect x="159" y="55" width="5" height="4" fill="rgb(80,80,80)"/><rect x="164" y="55" width="5" height="4" fill="rgb(90,90,90)"/><rect x="169" y="55" width="4" height="4" fill="rgb(110,110,110)"/><rect x="173" y="55" width="5" height="4" fill="rgb(110,110,110)"/><rect x="178" y="55" width="4" height="4" fill="rgb(100,100,100)"/><rect x="182" y="55" width="5" height="4" fill="rgb(120,120,120)"/><rect x="187" y="55" width="4" height="4" fill="rgb(150,150,150)"/><rect x="191" y="55" width="5" height="4" fill="rgb(180,180,180)"/><rect x="196" y="55" width="4" height="4" fill="rgb(180,180,180)"/><rect x="200" y="55" width="5" height="4" fill="rgb(180,180,180)"/><rect x="205" y="55" width="4" height="4" fill="rgb(170,170,170)"/><rect x="209" y="55" width="5" height="4" fill="rgb(148,148,148)"/><rect x="214" y="55" width="4" height="4" fill="rgb(228,228,228)"/><rect x="218" y="55" width="5" height="4" fill="rgb(218,218,218)"/><rect x="223" y="55" width="4" height="4" fill="rgb(58,58,58)"/><rect x="227" y="55" width="5" height="4" fill="rgb(10,10,10)"/><rect x="232" y="55" width="4" height="4" fill="rgb(88,88,88)"/><rect x="236" y="55" width="5" height="4" fill="rgb(208,208,208)"/><rect x="241" y="55" width="4" height="4" fill="rgb(250,250,250)"/><rect x="245" y="55" width="5" height="4" fill="rgb(238,238,238)"/><rect x="250" y="55" width="4" height="4" fill="rgb(158,158,158)"/><rect x="254" y="55" width="5" height="4" fill="rgb(138,138,138)"/><rect x="259" y="55" width="4" height="4" fill="rgb(158,158,158)"/><rect x="263" y="55" width="5" height="4" fill="rgb(228,228,228)"/><rect x="268" y="55" width="5" height="4" fill="rgb(228,228,228)"/><rect x="273" y="55" width="4" height="4" fill="rgb(208,208,208)"/><rect x="277" y="55" width="5" height="4" fill="rgb(218,218,218)"/><rect x="282" y="55" width="4" height="4" fill="rgb(165,165,165)"/><rect x="286" y="55" width="5" height="4" fill="rgb(150,150,150)"/><rect x="291" y="55" width="4" height="4" fill="rgb(165,165,165)"/><rect x="295" y="55" width="5" height="4" fill="rgb(170,170,170)"/><rect x="300" y="55" width="4" height="4" fill="rgb(145,145,145)"/><rect x="304" y="55" width="5" height="4" fill="rgb(145,145,145)"/><rect x="309" y="55" width="4" height="4" fill="rgb(165,165,165)"/><rect x="313" y="55" width="5" height="4" fill="rgb(125,125,125)"/><rect x="318" y="55" width="4" height="4" fill="rgb(138,138,138)"/><rect x="322" y="55" width="5" height="4" fill="rgb(118,118,118)"/><rect x="327" y="55" width="4" height="4" fill="rgb(218,218,218)"/><rect x="331" y="55" width="5" height="4" fill="rgb(240,240,240)"/><rect x="336" y="55" width="4" height="4" fill="rgb(240,240,240)"/><rect x="340" y="55" width="5" height="4" fill="rgb(228,228,228)"/><rect x="345" y="55" width="5" height="4" fill="rgb(238,238,238)"/><rect x="29" y="59" width="4" height="4" fill="rgb(140,140,140)"/><rect x="33" y="59" width="4" height="4" fill="rgb(120,120,120)"/><rect x="37" y="59" width="5" height="4" fill="rgb(75,75,75)"/><rect x="42" y="59" width="4" height="4" fill="rgb(140,140,140)"/><rect x="46" y="59" width="5" height="4" fill="rgb(180,180,180)"/><rect x="51" y="59" width="4" height="4" fill="rgb(150,150,150)"/><rect x="55" y="59" width="5" height="4" fill="rgb(110,110,110)"/><rect x="60" y="59" width="4" height="4" fill="rgb(110,110,110)"/><rect x="64" y="59" width="5" height="4" fill="rgb(160,160,160)"/><rect x="69" y="59" width="5" height="4" fill="rgb(170,170,170)"/><rect x="74" y="59" width="4" height="4" fill="rgb(125,125,125)"/><rect x="78" y="59" width="5" height="4" fill="rgb(150,150,150)"/><rect x="83" y="59" width="4" height="4" fill="rgb(160,160,160)"/><rect x="87" y="59" width="5" height="4" fill="rgb(150,150,150)"/><rect x="92" y="59" width="4" height="4" fill="rgb(200,200,200)"/><rect x="96" y="59" width="5" height="4" fill="rgb(220,220,220)"/><rect x="101" y="59" width="4" height="4" fill="rgb(200,200,200)"/><rect x="105" y="59" width="5" height="4" fill="rgb(140,140,140)"/><rect x="110" y="59" width="4" height="4" fill="rgb(140,140,140)"/><rect x="114" y="59" width="5" height="4" fill="rgb(170,170,170)"/><rect x="119" y="59" width="4" height="4" fill="rgb(160,160,160)"/><rect x="123" y="59" width="5" height="4" fill="rgb(75,75,75)"/><rect x="128" y="59" width="4" height="4" fill="rgb(80,80,80)"/><rect x="132" y="59" width="5" height="4" fill="rgb(95,95,95)"/><rect x="137" y="59" width="4" height="4" fill="rgb(140,140,140)"/><rect x="141" y="59" width="5" height="4" fill="rgb(130,130,130)"/><rect x="146" y="59" width="4" height="4" fill="rgb(100,100,100)"/><rect x="150" y="59" width="5" height="4" fill="rgb(210,210,210)"/><rect x="155" y="59" width="4" height="4" fill="rgb(230,230,230)"/><rect x="159" y="59" width="5" height="4" fill="rgb(160,160,160)"/><rect x="164" y="59" width="5" height="4" fill="rgb(160,160,160)"/><rect x="169" y="59" width="4" height="4" fill="rgb(140,140,140)"/><rect x="173" y="59" width="5" height="4" fill="rgb(150,150,150)"/><rect x="178" y="59" width="4" height="4" fill="rgb(120,120,120)"/><rect x="182" y="59" width="5" height="4" fill="rgb(120,120,120)"/><rect x="187" y="59" width="4" height="4" fill="rgb(140,140,140)"/><rect x="191" y="59" width="5" height="4" fill="rgb(160,160,160)"/><rect x="196" y="59" width="4" height="4" fill="rgb(90,90,90)"/><rect x="200" y="59" width="5" height="4" fill="rgb(110,110,110)"/><rect x="205" y="59" width="4" height="4" fill="rgb(120,120,120)"/><rect x="209" y="59" width="5" height="4" fill="rgb(108,108,108)"/><rect x="214" y="59" width="4" height="4" fill="rgb(128,128,128)"/><rect x="218" y="59" width="5" height="4" fill="rgb(108,108,108)"/><rect x="223" y="59" width="4" height="4" fill="rgb(108,108,108)"/><rect x="227" y="59" width="5" height="4" fill="rgb(118,118,118)"/><rect x="232" y="59" width="4" height="4" fill="rgb(128,128,128)"/><rect x="236" y="59" width="5" height="4" fill="rgb(158,158,158)"/><rect x="241" y="59" width="4" height="4" fill="rgb(238,238,238)"/><rect x="245" y="59" width="5" height="4" fill="rgb(240,240,240)"/><rect x="250" y="59" width="4" height="4" fill="rgb(240,240,240)"/><rect x="254" y="59" width="5" height="4" fill="rgb(128,128,128)"/><rect x="259" y="59" width="4" height="4" fill="rgb(108,108,108)"/><rect x="263" y="59" width="5" height="4" fill="rgb(178,178,178)"/><rect x="268" y="59" width="5" height="4" fill="rgb(168,168,168)"/><rect x="273" y="59" width="4" height="4" fill="rgb(148,148,148)"/><rect x="277" y="59" width="5" height="4" fill="rgb(148,148,148)"/><rect x="282" y="59" width="4" height="4" fill="rgb(220,220,220)"/><rect x="286" y="59" width="5" height="4" fill="rgb(220,220,220)"/><rect x="291" y="59" width="4" height="4" fill="rgb(110,110,110)"/><rect x="295" y="59" width="5" height="4" fill="rgb(75,75,75)"/><rect x="300" y="59" width="4" height="4" fill="rgb(115,115,115)"/><rect x="304" y="59" width="5" height="4" fill="rgb(140,140,140)"/><rect x="309" y="59" width="4" height="4" fill="rgb(165,165,165)"/><rect x="313" y="59" width="5" height="4" fill="rgb(200,200,200)"/><rect x="318" y="59" width="4" height="4" fill="rgb(108,108,108)"/><rect x="322" y="59" width="5" height="4" fill="rgb(10,10,10)"/><rect x="327" y="59" width="4" height="4" fill="rgb(118,118,118)"/><rect x="331" y="59" width="5" height="4" fill="rgb(158,158,158)"/><rect x="336" y="59" width="4" height="4" fill="rgb(168,168,168)"/><rect x="340" y="59" width="5" height="4" fill="rgb(118,118,118)"/><rect x="345" y="59" width="5" height="4" fill="rgb(138,138,138)"/><rect x="29" y="17" width="4" height="1" fill="rgb(183,183,183)"/><rect x="33" y="17" width="4" height="1" fill="rgb(160,160,160)"/><rect x="37" y="17" width="5" height="1" fill="rgb(165,165,165)"/><rect x="42" y="17" width="4" height="1" fill="rgb(176,176,176)"/><rect x="46" y="17" width="5" height="1" fill="rgb(176,176,176)"/><rect x="51" y="17" width="4" height="1" fill="rgb(172,172,172)"/><rect x="55" y="17" width="5" height="1" fill="rgb(185,185,185)"/><rect x="60" y="17" width="4" height="1" fill="rgb(199,199,199)"/><rect x="64" y="17" width="5" height="1" fill="rgb(194,194,194)"/><rect x="69" y="17" width="5" height="1" fill="rgb(194,194,194)"/><rect x="74" y="17" width="4" height="1" fill="rgb(163,163,163)"/><rect x="78" y="17" width="5" height="1" fill="rgb(145,145,145)"/><rect x="83" y="17" width="4" height="1" fill="rgb(145,145,145)"/><rect x="87" y="17" width="5" height="1" fill="rgb(176,176,176)"/><rect x="92" y="17" width="4" height="1" fill="rgb(208,208,208)"/><rect x="96" y="17" width="5" height="1" fill="rgb(190,190,190)"/><rect x="101" y="17" width="4" height="1" fill="rgb(176,176,176)"/><rect x="105" y="17" width="5" height="1" fill="rgb(176,176,176)"/><rect x="110" y="17" width="4" height="1" fill="rgb(163,163,163)"/><rect x="114" y="17" width="5" height="1" fill="rgb(190,190,190)"/><rect x="119" y="17" width="4" height="1" fill="rgb(185,185,185)"/><rect x="123" y="17" width="5" height="1" fill="rgb(190,190,190)"/><rect x="128" y="17" width="4" height="1" fill="rgb(199,199,199)"/><rect x="132" y="17" width="5" height="1" fill="rgb(194,194,194)"/><rect x="137" y="17" width="4" height="1" fill="rgb(208,208,208)"/><rect x="141" y="17" width="5" height="1" fill="rgb(203,203,203)"/><rect x="146" y="17" width="4" height="1" fill="rgb(185,185,185)"/><rect x="150" y="17" width="5" height="1" fill="rgb(190,190,190)"/><rect x="155" y="17" width="4" height="1" fill="rgb(181,181,181)"/><rect x="159" y="17" width="5" height="1" fill="rgb(181,181,181)"/><rect x="164" y="17" width="5" height="1" fill="rgb(199,199,199)"/><rect x="169" y="17" width="4" height="1" fill="rgb(226,226,226)"/><rect x="173" y="17" width="5" height="1" fill="rgb(199,199,199)"/><rect x="178" y="17" width="4" height="1" fill="rgb(194,194,194)"/><rect x="182" y="17" width="5" height="1" fill="rgb(199,199,199)"/><rect x="187" y="17" width="4" height="1" fill="rgb(176,176,176)"/><rect x="191" y="17" width="5" height="1" fill="rgb(190,190,190)"/><rect x="196" y="17" width="4" height="1" fill="rgb(217,217,217)"/><rect x="200" y="17" width="5" height="1" fill="rgb(190,190,190)"/><rect x="205" y="17" width="4" height="1" fill="rgb(145,145,145)"/><rect x="209" y="17" width="5" height="1" fill="rgb(147,147,147)"/><rect x="214" y="17" width="4" height="1" fill="rgb(180,180,180)"/><rect x="218" y="17" width="5" height="1" fill="rgb(184,184,184)"/><rect x="223" y="17" width="4" height="1" fill="rgb(193,193,193)"/><rect x="227" y="17" width="5" height="1" fill="rgb(193,193,193)"/><rect x="232" y="17" width="4" height="1" fill="rgb(189,189,189)"/><rect x="236" y="17" width="5" height="1" fill="rgb(193,193,193)"/><rect x="241" y="17" width="4" height="1" fill="rgb(180,180,180)"/><rect x="245" y="17" width="5" height="1" fill="rgb(162,162,162)"/><rect x="250" y="17" width="4" height="1" fill="rgb(189,189,189)"/><rect x="254" y="17" width="5" height="1" fill="rgb(189,189,189)"/><rect x="259" y="17" width="4" height="1" fill="rgb(157,157,157)"/><rect x="263" y="17" width="5" height="1" fill="rgb(193,193,193)"/><rect x="268" y="17" width="5" height="1" fill="rgb(243,243,243)"/><rect x="273" y="17" width="4" height="1" fill="rgb(250,250,250)"/><rect x="277" y="17" width="5" height="1" fill="rgb(243,243,243)"/><rect x="282" y="17" width="4" height="1" fill="rgb(230,230,230)"/><rect x="286" y="17" width="5" height="1" fill="rgb(221,221,221)"/><rect x="291" y="17" width="4" height="1" fill="rgb(221,221,221)"/><rect x="295" y="17" width="5" height="1" fill="rgb(212,212,212)"/><rect x="300" y="17" width="4" height="1" fill="rgb(181,181,181)"/><rect x="304" y="17" width="5" height="1" fill="rgb(160,160,160)"/><rect x="309" y="17" width="4" height="1" fill="rgb(178,178,178)"/><rect x="313" y="17" width="5" height="1" fill="rgb(192,192,192)"/><rect x="318" y="17" width="4" height="1" fill="rgb(190,190,190)"/><rect x="322" y="17" width="5" height="1" fill="rgb(208,208,208)"/><rect x="327" y="17" width="4" height="1" fill="rgb(230,230,230)"/><rect x="331" y="17" width="5" height="1" fill="rgb(190,190,190)"/><rect x="336" y="17" width="4" height="1" fill="rgb(190,190,190)"/><rect x="340" y="17" width="5" height="1" fill="rgb(224,224,224)"/><rect x="345" y="17" width="5" height="1" fill="rgb(219,219,219)"/><rect x="28" y="18" width="1" height="5" fill="rgb(199,199,199)"/><rect x="28" y="23" width="1" height="5" fill="rgb(168,168,168)"/><rect x="28" y="28" width="1" height="4" fill="rgb(224,224,224)"/><rect x="28" y="32" width="1" height="5" fill="rgb(222,222,222)"/><rect x="28" y="37" width="1" height="4" fill="rgb(225,225,225)"/><rect x="28" y="41" width="1" height="5" fill="rgb(204,204,204)"/><rect x="28" y="46" width="1" height="4" fill="rgb(208,208,208)"/><rect x="28" y="50" width="1" height="5" fill="rgb(211,211,211)"/><rect x="28" y="55" width="1" height="4" fill="rgb(229,229,229)"/><rect x="28" y="59" width="1" height="4" fill="rgb(215,215,215)"/></g><polyline points="35.50,96.00 41.00,102.00 45.00,101.50 48.60,100.50 52.00,103.50 56.00,103.50 59.00,105.00 64.00,107.00 67.00,107.50 72.00,106.50 80.00,107.80 88.00,108.50 98.00,107.50 101.00,110.50 110.00,112.50 115.00,114.00 118.00,115.10 123.00,116.50 128.00,115.10 135.00,116.50 141.00,117.00 144.00,115.90 150.00,118.90 157.00,120.50 160.00,119.20 167.00,120.70 174.00,120.10 183.00,120.50 191.00,122.40 197.00,122.00 201.00,122.20 209.00,123.20 217.00,122.50 225.00,124.40 243.00,125.50 259.00,125.70 268.00,126.60 277.00,126.70 286.00,126.10 294.00,127.30 304.00,128.10 312.00,128.30 321.00,127.60 329.00,128.30 338.00,128.90 348.00,129.30" fill="none" stroke="#b4b4b4" stroke-width="1" stroke-dasharray="4.5 4.2"/><polyline points="35.50,197.00 41.00,191.00 45.00,191.50 48.60,192.50 52.00,189.50 56.00,189.50 59.00,188.00 64.00,186.00 67.00,185.50 72.00,186.50 80.00,185.20 88.00,184.50 98.00,185.50 101.00,182.50 110.00,180.50 115.00,179.00 118.00,177.90 123.00,176.50 128.00,177.90 135.00,176.50 141.00,176.00 144.00,177.10 150.00,174.10 157.00,172.50 160.00,173.80 167.00,172.30 174.00,172.90 183.00,172.50 191.00,170.60 197.00,171.00 201.00,170.80 209.00,169.80 217.00,170.50 225.00,168.60 243.00,167.50 259.00,167.30 268.00,166.40 277.00,166.30 286.00,166.90 294.00,165.70 304.00,164.90 312.00,164.70 321.00,165.40 329.00,164.70 338.00,164.10 348.00,163.70" fill="none" stroke="#b4b4b4" stroke-width="1" stroke-dasharray="4.5 4.2"/><line x1="29.0" y1="146.5" x2="349.0" y2="146.5" stroke="#383838" stroke-width="1"/><polyline points="30.70,110.80 34.80,110.80 34.80,105.30 38.60,105.30 38.60,98.60 42.70,98.60 42.70,109.00 47.00,109.00 47.00,123.80 50.30,123.80 50.30,153.40 54.60,153.40 54.60,179.40 59.20,179.40 59.20,163.40 63.10,163.40 63.10,126.00 67.10,126.00 67.10,113.40 70.90,113.40 70.90,105.40 75.10,105.40 75.10,94.50 79.10,94.50 79.10,102.80 83.20,102.80 83.20,149.10 87.10,149.10 87.10,162.90 91.20,162.90 91.20,144.90 95.70,144.90 95.70,107.10 99.80,107.10 99.80,94.20 104.00,94.20 104.00,120.60 108.00,120.60 108.00,142.30 112.30,142.30 112.30,162.60 116.60,162.60 116.60,177.10 120.30,177.10 120.30,189.70 124.80,189.70 124.80,179.40 128.90,179.40 128.90,129.90 133.70,129.90 133.70,120.90 137.10,120.90 137.10,137.00 141.40,137.00 141.40,132.80 145.90,132.80 145.90,128.90 150.20,128.90 150.20,125.30 154.30,125.30 154.30,144.30 158.30,144.30 158.30,159.20 163.20,159.20 163.20,160.00 167.40,160.00 167.40,139.50 171.60,139.50 171.60,115.60 175.70,115.60 175.70,103.90 179.90,103.90 179.90,102.40 184.50,102.40 184.50,101.20 188.80,101.20 188.80,96.50 193.10,96.50 193.10,111.40 197.70,111.40 197.70,129.50 202.00,129.50 202.00,131.00 206.30,131.00 206.30,138.00 210.70,138.00 210.70,159.60 215.10,159.60 215.10,162.10 219.20,162.10 219.20,142.30 223.50,142.30 223.50,136.00 228.60,136.00 228.60,134.30 232.90,134.30 232.90,131.70 237.10,131.70 237.10,135.10 241.40,135.10 241.40,139.80 246.60,139.80 246.60,131.40 250.90,131.40 250.90,116.00 255.50,116.00 255.50,123.00 259.70,123.00 259.70,145.30 263.90,145.30 263.90,148.40 268.40,148.40 268.40,152.20 273.00,152.20 273.00,163.10 277.30,163.10 277.30,154.60 282.40,154.60 282.40,137.80 286.40,137.80 286.40,133.50 291.00,133.50 291.00,133.10 296.00,133.10 296.00,143.00 300.40,143.00 300.40,159.10 310.00,159.10 310.00,152.40 314.30,152.40 314.30,135.30 319.10,135.30 319.10,140.40 323.80,140.40 323.80,156.60 328.70,156.60 328.70,165.10 333.50,165.10 333.50,148.90 337.70,148.90 337.70,120.40 342.70,120.40 342.70,116.30 347.20,116.30 347.20,126.70 348.50,126.70" fill="none" stroke="#383838" stroke-width="1"/><line x1="342.7" y1="117.7" x2="347.2" y2="117.7" stroke="#383838" stroke-width="0.8"/><polyline points="152.40,146.45 152.70,146.44 156.90,146.20 161.10,145.30 165.30,142.64 169.50,136.44 173.70,125.30 177.90,110.38 182.10,96.79 186.30,91.20 190.50,96.79 194.70,110.38 198.90,125.30 203.10,136.44 207.30,142.64 211.50,145.30 215.70,146.20 219.90,146.44 224.10,146.49 225.70,146.50" fill="none" stroke="#d93434" stroke-width="0.9"/><path d="M28,63.5H350" stroke="#4a4a4a" stroke-width="1" fill="none"/><path d="M28,229.5H350" stroke="#3a3a3a" stroke-width="1" fill="none"/><path d="M28.5,63V230" stroke="#9a9a9a" stroke-width="1" fill="none"/><path d="M349.5,63V230" stroke="#555" stroke-width="1" fill="none"/><path d="M29,227.38h3.0M349,227.38h-3.0M29,224.58h3.0M349,224.58h-3.0M29,221.79h3.0M349,221.79h-3.0M29,218.99h3.0M349,218.99h-3.0M29,216.19h3.0M349,216.19h-3.0M29,213.39h3.0M349,213.39h-3.0M29,210.59h3.0M349,210.59h-3.0M29,207.80h3.0M349,207.80h-3.0M29,205.00h3.0M349,205.00h-3.0M29,202.20h6.0M349,202.20h-6.0M29,199.40h3.0M349,199.40h-3.0M29,196.60h3.0M349,196.60h-3.0M29,193.81h3.0M349,193.81h-3.0M29,191.01h3.0M349,191.01h-3.0M29,188.21h3.0M349,188.21h-3.0M29,185.41h3.0M349,185.41h-3.0M29,182.61h3.0M349,182.61h-3.0M29,179.82h3.0M349,179.82h-3.0M29,177.02h3.0M349,177.02h-3.0M29,174.22h6.0M349,174.22h-6.0M29,171.42h3.0M349,171.42h-3.0M29,168.62h3.0M349,168.62h-3.0M29,165.83h3.0M349,165.83h-3.0M29,163.03h3.0M349,163.03h-3.0M29,160.23h3.0M349,160.23h-3.0M29,157.43h3.0M349,157.43h-3.0M29,154.63h3.0M349,154.63h-3.0M29,151.84h3.0M349,151.84h-3.0M29,149.04h3.0M349,149.04h-3.0M29,146.24h6.0M349,146.24h-6.0M29,143.44h3.0M349,143.44h-3.0M29,140.64h3.0M349,140.64h-3.0M29,137.85h3.0M349,137.85h-3.0M29,135.05h3.0M349,135.05h-3.0M29,132.25h3.0M349,132.25h-3.0M29,129.45h3.0M349,129.45h-3.0M29,126.65h3.0M349,126.65h-3.0M29,123.86h3.0M349,123.86h-3.0M29,121.06h3.0M349,121.06h-3.0M29,118.26h6.0M349,118.26h-6.0M29,115.46h3.0M349,115.46h-3.0M29,112.66h3.0M349,112.66h-3.0M29,109.87h3.0M349,109.87h-3.0M29,107.07h3.0M349,107.07h-3.0M29,104.27h3.0M349,104.27h-3.0M29,101.47h3.0M349,101.47h-3.0M29,98.67h3.0M349,98.67h-3.0M29,95.88h3.0M349,95.88h-3.0M29,93.08h3.0M349,93.08h-3.0M29,90.28h6.0M349,90.28h-6.0M29,87.48h3.0M349,87.48h-3.0M29,84.68h3.0M349,84.68h-3.0M29,81.89h3.0M349,81.89h-3.0M29,79.09h3.0M349,79.09h-3.0M29,76.29h3.0M349,76.29h-3.0M29,73.49h3.0M349,73.49h-3.0M29,70.69h3.0M349,70.69h-3.0M29,67.90h3.0M349,67.90h-3.0M29,65.10h3.0M349,65.10h-3.0M38.64,229.5v-1.6M38.64,63.5v1.6M58.80,229.5v-3.2M58.80,63.5v3.2M78.96,229.5v-1.6M78.96,63.5v1.6M99.12,229.5v-1.6M99.12,63.5v1.6M119.28,229.5v-1.6M119.28,63.5v1.6M139.44,229.5v-1.6M139.44,63.5v1.6M159.60,229.5v-3.2M159.60,63.5v3.2M179.76,229.5v-1.6M179.76,63.5v1.6M199.92,229.5v-1.6M199.92,63.5v1.6M220.08,229.5v-1.6M220.08,63.5v1.6M240.24,229.5v-1.6M240.24,63.5v1.6M260.40,229.5v-3.2M260.40,63.5v3.2M280.56,229.5v-1.6M280.56,63.5v1.6M300.72,229.5v-1.6M300.72,63.5v1.6M320.88,229.5v-1.6M320.88,63.5v1.6M341.04,229.5v-1.6M341.04,63.5v1.6" stroke="#3c3c3c" stroke-width="1" fill="none"/><text transform="translate(160.036,7.095) scale(0.8727,0.8407)" font-size="10" fill="#111" stroke="#111" stroke-width="0.1">Redshift</text><text transform="translate(195.895,7.462) scale(0.9684,0.9189)" font-size="10" fill="#111" stroke="#111" stroke-width="0.1">(Ly&#945;)</text><text transform="translate(33.250,14.679) scale(0.9342,0.9684)" font-size="10" fill="#111" stroke="#111" stroke-width="0">5.92</text><text transform="translate(78.549,14.679) scale(0.9014,0.9684)" font-size="10" fill="#111" stroke="#111" stroke-width="0">6.11</text><text transform="translate(128.157,14.679) scale(0.8865,0.9684)" font-size="10" fill="#111" stroke="#111" stroke-width="0">6.32</text><text transform="translate(172.965,14.679) scale(0.8703,0.9684)" font-size="10" fill="#111" stroke="#111" stroke-width="0">6.51</text><text transform="translate(222.935,14.679) scale(0.9297,0.9684)" font-size="10" fill="#111" stroke="#111" stroke-width="0">6.72</text><text transform="translate(268.554,14.679) scale(0.8913,0.9684)" font-size="10" fill="#111" stroke="#111" stroke-width="0">6.90</text><text transform="translate(318.577,14.800) scale(0.8451,1.0036)" font-size="10" fill="#111" stroke="#111" stroke-width="0">7.11</text><text transform="translate(21.089,93.900) scale(1.0222,0.9429)" font-size="10" fill="#111" stroke="#111" stroke-width="0">2</text><text transform="translate(22.189,121.700) scale(0.5486,0.8873)" font-size="10" fill="#111" stroke="#111" stroke-width="0">1</text><text transform="translate(20.713,149.879) scale(1.0316,0.9684)" font-size="10" fill="#111" stroke="#111" stroke-width="0">0</text><text transform="translate(15.259,180.880) scale(0.8821,1.7600)" font-size="10" fill="#111" stroke="#111" stroke-width="0">&#8722;</text><text transform="translate(22.189,177.700) scale(0.5486,0.8873)" font-size="10" fill="#111" stroke="#111" stroke-width="0">1</text><text transform="translate(14.928,208.880) scale(0.9436,1.7600)" font-size="10" fill="#111" stroke="#111" stroke-width="0">&#8722;</text><text transform="translate(21.111,206.300) scale(0.9778,0.9857)" font-size="10" fill="#111" stroke="#111" stroke-width="0">2</text><text transform="translate(47.935,241.179) scale(0.9310,0.9684)" font-size="10" fill="#111" stroke="#111" stroke-width="0">8500</text><text transform="translate(148.427,241.179) scale(0.9450,0.9684)" font-size="10" fill="#111" stroke="#111" stroke-width="0">9000</text><text transform="translate(249.730,241.179) scale(0.9404,0.9684)" font-size="10" fill="#111" stroke="#111" stroke-width="0">9500</text><text transform="translate(159.297,250.892) scale(0.8252,0.8541)" font-size="10" fill="#111" stroke="#111" stroke-width="0">Wavelength</text><text transform="translate(206.474,250.888) scale(0.9674,0.8558)" font-size="10" fill="#111" stroke="#111" stroke-width="0">[&#197;]</text><text transform="translate(251.018,80.689) scale(0.7646,0.8842)" font-size="10" fill="#111" stroke="#111" stroke-width="0.1">GN4</text><text transform="translate(271.962,80.689) scale(0.9023,0.8842)" font-size="10" fill="#111" stroke="#111" stroke-width="0.1">5461276</text><text transform="translate(192.991,181.500) scale(0.8242,0.8190)" font-size="10" fill="#111" stroke="#111" stroke-width="0">z</text><text transform="translate(196.809,183.089) scale(0.5105,0.5227)" font-size="10" font-weight="bold" fill="#111" stroke="#111" stroke-width="0">grism</text><text transform="translate(211.018,181.500) scale(0.9641,0.8000)" font-size="10" fill="#111" stroke="#111" stroke-width="0">=</text><text transform="translate(216.832,181.484) scale(0.9368,0.9263)" font-size="10" fill="#111" stroke="#111" stroke-width="0">6.513</text><text transform="translate(241.376,181.300) scale(0.8632,0.8170)" font-size="10" fill="#111" stroke="#111" stroke-width="0">&#177;</text><text transform="translate(246.361,181.484) scale(0.9031,0.9263)" font-size="10" fill="#111" stroke="#111" stroke-width="0">0.005</text><text transform="translate(192.390,196.600) scale(0.6974,0.8727)" font-size="10" fill="#111" stroke="#111" stroke-width="0">F</text><text transform="translate(197.295,198.331) scale(0.4872,0.4845)" font-size="10" font-weight="bold" fill="#111" stroke="#111" stroke-width="0">Ly&#945;</text><text transform="translate(206.518,196.688) scale(0.9641,0.7360)" font-size="10" fill="#111" stroke="#111" stroke-width="0">=</text><text transform="translate(212.165,197.382) scale(0.8703,0.9404)" font-size="10" fill="#111" stroke="#111" stroke-width="0">2.51</text><text transform="translate(231.284,197.400) scale(0.8421,0.8000)" font-size="10" fill="#111" stroke="#111" stroke-width="0">&#177;</text><text transform="translate(235.846,197.382) scale(0.9450,0.9404)" font-size="10" fill="#111" stroke="#111" stroke-width="0">0.57</text><text transform="translate(257.663,196.984) scale(1.2500,0.9081)" font-size="10" fill="#111" stroke="#111" stroke-width="0">[</text><text transform="translate(262.585,197.382) scale(0.8200,0.9404)" font-size="10" fill="#111" stroke="#111" stroke-width="0">10</text><text transform="translate(272.286,192.700) scale(0.5705,0.5964)" font-size="10" font-weight="bold" fill="#111" stroke="#111" stroke-width="0">&#8722;17</text><text transform="translate(282.389,197.578) scale(1.0953,0.8108)" font-size="10" fill="#111" stroke="#111" stroke-width="0">erg/s/cm</text><text transform="translate(324.618,192.900) scale(0.4842,0.5857)" font-size="10" font-weight="bold" fill="#111" stroke="#111" stroke-width="0">2</text><text transform="translate(327.363,196.984) scale(1.1000,0.9081)" font-size="10" fill="#111" stroke="#111" stroke-width="0">]</text><text transform="translate(192.181,212.186) scale(1.0372,0.9085)" font-size="10" fill="#111" stroke="#111" stroke-width="0">S/N=</text><text transform="translate(219.461,212.300) scale(0.9570,0.9891)" font-size="10" fill="#111" stroke="#111" stroke-width="0">4.4</text><rect x="267.2" y="79.8" width="4.6" height="0.9" fill="#1e1e1e"/><text transform="translate(7.800,201.000) rotate(-90) scale(0.8000,0.8000)" font-size="10" fill="#111">f</text><text transform="translate(9.600,198.583) rotate(-90) scale(0.6667,0.4667)" font-size="10" font-weight="bold" fill="#111">&#955;</text><text transform="translate(7.719,191.600) rotate(-90) scale(1.2000,0.9405)" font-size="10" fill="#111">[</text><text transform="translate(7.302,186.285) rotate(-90) scale(0.7800,0.7860)" font-size="10" fill="#111">10</text><text transform="translate(2.947,177.468) rotate(-90) scale(0.7138,0.4211)" font-size="10" font-weight="bold" fill="#111">&#8722;18</text><text transform="translate(7.546,163.353) rotate(-90) scale(0.9407,0.8271)" font-size="10" fill="#111">erg</text><text transform="translate(7.693,146.194) rotate(-90) scale(0.7771,0.8545)" font-size="10" fill="#111">s</text><text transform="translate(3.300,140.916) rotate(-90) scale(0.5767,0.4800)" font-size="10" font-weight="bold" fill="#111">&#8722;1</text><text transform="translate(7.891,128.312) rotate(-90) scale(0.8327,0.8727)" font-size="10" fill="#111">cm</text><text transform="translate(3.200,117.522) rotate(-90) scale(0.5929,0.3714)" font-size="10" font-weight="bold" fill="#111">&#8722;2</text><text transform="translate(7.600,107.300) rotate(-90) scale(0.7094,0.8686)" font-size="10" fill="#111">&#197;</text><text transform="translate(3.300,101.899) rotate(-90) scale(0.5302,0.4800)" font-size="10" font-weight="bold" fill="#111">&#8722;1</text><text transform="translate(7.719,94.606) rotate(-90) scale(0.8500,0.9405)" font-size="10" fill="#111">]</text></svg></body></html>
